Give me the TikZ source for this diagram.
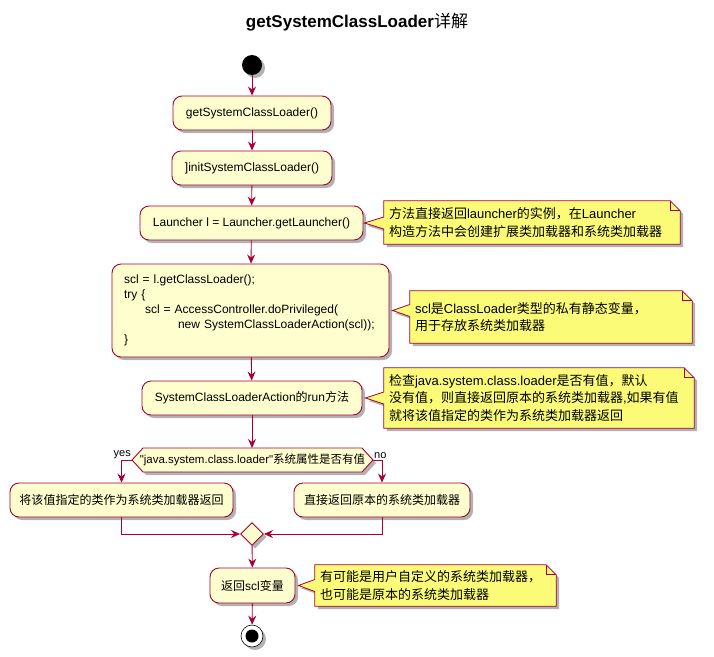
\documentclass[tikz,border=0pt]{standalone}
\usepackage{fontspec}
\setmainfont{Liberation Sans}
\newfontfamily\cjk{Noto Sans CJK SC}
\usetikzlibrary{shapes.geometric,shadows,arrows.meta,calc,backgrounds}

\definecolor{umlred}{HTML}{A80036}
\definecolor{actfill}{HTML}{FEFECE}
\definecolor{notefill}{HTML}{FBFB77}

\newcommand\zh[1]{{\cjk #1}}
% outline of a note: folded corner and a pointer to #2
\newcommand\notebox[2]{%
    \begin{pgfonlayer}{background}
        \draw[noteline] (#1.north west) -- ($(#1.north east)+(-10,0)$) -- ($(#1.north east)+(0,10)$)
            -- (#1.south east) -- (#1.south west) -- ($(#1.west |- #2)+(0,6)$) -- (#2)
            -- ($(#1.west |- #2)+(0,-6)$) -- cycle;
        \draw[umlred, line width=.8pt] ($(#1.north east)+(-10,0)$) |- ($(#1.north east)+(0,10)$);
    \end{pgfonlayer}}

\tikzset{
    umlshadow/.style={drop shadow={shadow xshift=3pt, shadow yshift=-3pt, opacity=.3, fill=black}},
    act/.style={draw=umlred, fill=actfill, line width=.9pt, rounded corners=9pt, umlshadow,
        minimum height=34pt, inner sep=0pt, font=\fontsize{12}{15}\selectfont},
    notetext/.style={align=left, inner xsep=5pt, inner ysep=0pt, font=\fontsize{13}{17.3}\selectfont},
    noteline/.style={draw=umlred, fill=notefill, line width=.8pt, umlshadow},
    hexline/.style={draw=umlred, fill=actfill, line width=.9pt, umlshadow},
    flow/.style={draw=umlred, line width=.9pt, -{Stealth[length=9pt, width=8pt, inset=3pt]}},
    lbl/.style={inner sep=1pt, font=\fontsize{11}{13}\selectfont}
}

\begin{document}
\begin{tikzpicture}[x=1pt, y=-1pt]
    \useasboundingbox (0,0) rectangle (714,656);
    \node (title) at (357,22) {\fontsize{17}{20}\selectfont\bfseries getSystemClassLoader\mdseries\zh{详解}};

    % Activities.
        \node[circle, fill=black, minimum size=20pt, inner sep=0pt, umlshadow] (start) at (252,65) {};
        \node[act, minimum width=158pt] (getscl) at (252,113) {getSystemClassLoader()};
        \node[act, minimum width=160pt] (initscl) at (252,168) {]initSystemClassLoader()};
        \node[act, minimum width=223pt] (launcher) at (251.5,223) {Launcher l = Launcher.getLauncher()};
        \node[act, minimum width=277pt, minimum height=93pt, text width=253pt, align=left] (getcl) at (250.5,310.5)
            {scl = l.getClassLoader();\\
             try \{\\
             \hspace*{21pt}scl = AccessController.doPrivileged(\\
             \hspace*{54pt}new SystemClassLoaderAction(scl));\\
             \}};
        \node[act, minimum width=220pt] (run) at (252,398) {SystemClassLoaderAction\zh{的}run\zh{方法}};

    % The decision and its two branches.
        \draw[hexline] (132,460) -- (143,448) -- (362,448) -- (373,460) -- (362,472) -- (143,472) -- cycle;
        \coordinate (condL) at (132,460);
        \coordinate (condR) at (373,460);
        \node[font=\fontsize{11.5}{14}\selectfont] (cond) at (252.5,460)
            {\textquotedbl java.system.class.loader\textquotedbl\zh{系统属性是否有值}};
        \node[lbl, anchor=south east] (yes) at (condL) {yes};
        \node[lbl, anchor=south west] (no) at (condR) {no};
        \node[act, minimum width=223pt] (custom) at (121.5,500) {\zh{将该值指定的类作为系统类加载器返回}};
        \node[act, minimum width=176pt] (orig) at (382,500) {\zh{直接返回原本的系统类加载器}};
        \node[diamond, draw=umlred, fill=actfill, line width=.9pt, minimum size=23pt, inner sep=0pt, umlshadow] (merge) at (252,534) {};
        \node[act, minimum width=85pt, minimum height=35pt] (ret) at (252.5,585.5) {\zh{返回}scl\zh{变量}};
        \node[circle, draw=black, fill=white, line width=.6pt, minimum size=22pt, inner sep=0pt, umlshadow,
            path picture={\fill[black] (path picture bounding box.center) circle (6.5pt);}] (stop) at (252,636) {};

    % Connectors.
        \draw[flow] (start) -- (getscl);
        \draw[flow] (getscl) -- (initscl);
        \draw[flow] (initscl) -- (launcher);
        \draw[flow] (launcher) -- (getcl);
        \draw[flow] (getcl) -- (run);
        \draw[flow] (run) -- (252,448);
        \draw[flow] (condL) -| (custom);
        \draw[flow] (condR) -| (orig);
        \draw[flow] (custom) |- (merge);
        \draw[flow] (orig) |- (merge);
        \draw[flow] (merge) -- (ret);
        \draw[flow] (ret) -- (stop);

    % Notes.
        \node[notetext, text width=286pt, minimum height=43pt] (note1) at (532,222.5)
            {\zh{方法直接返回}launcher\zh{的实例，在}Launcher\\ \zh{构造方法中会创建扩展类加载器和系统类加载器}};
        \coordinate (tip1) at ($(launcher.east)+(1,0)$);
        \notebox{note1}{tip1}
        \node[notetext, text width=272pt, minimum height=52pt] (note2) at (551,317)
            {scl\zh{是}ClassLoader\zh{类型的私有静态变量，}\\ \zh{用于存放系统类加载器}};
        \coordinate (tip2) at ($(getcl.east)+(3,0)$);
        \notebox{note2}{tip2}
        \node[notetext, text width=300pt, minimum height=60pt] (note3) at (539,398)
            {\zh{检查}java.system.class.loader\zh{是否有值，默认}\\
             \zh{没有值，则直接返回原本的系统类加载器},\zh{如果有值}\\
             \zh{就将该值指定的类作为系统类加载器返回}};
        \coordinate (tip3) at ($(run.east)+(3,0)$);
        \notebox{note3}{tip3}
        \node[notetext, text width=231pt, minimum height=41pt] (note4) at (435.5,585.5)
            {\zh{有可能是用户自定义的系统类加载器，}\\ \zh{也可能是原本的系统类加载器}};
        \coordinate (tip4) at ($(ret.east)+(3,0)$);
        \notebox{note4}{tip4}
\end{tikzpicture}
\end{document}
